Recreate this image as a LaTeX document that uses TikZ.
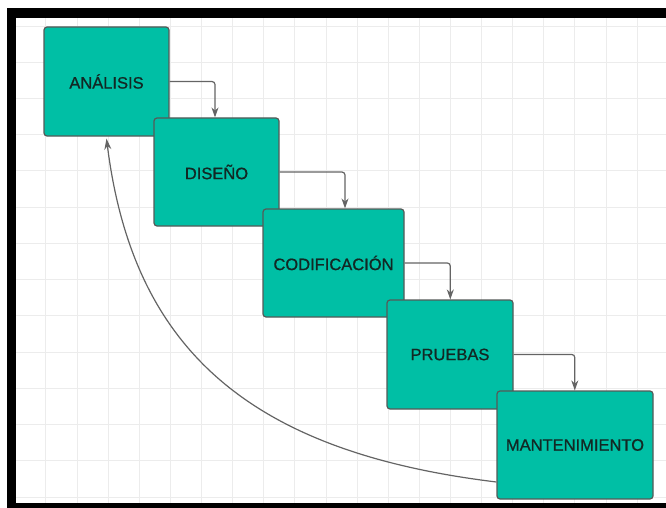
\documentclass[tikz,border=0pt]{standalone}
\usepackage{fontspec}
\setmainfont{Liberation Sans}
\newfontfamily\boxfont[FakeBold=0.8]{Liberation Sans}
\usetikzlibrary{arrows.meta}
\definecolor{boxfill}{RGB}{0,191,165}
\definecolor{boxline}{RGB}{85,90,88}
\definecolor{txtcol}{RGB}{18,40,36}
\definecolor{gridcol}{RGB}{236,236,236}
\definecolor{conncol}{RGB}{100,100,100}
\tikzset{
  stagebox/.style={draw=boxline, line width=1.2pt, fill=boxfill, rounded corners=3pt,
    inner sep=0pt, text=txtcol, font=\boxfont\fontsize{16.5}{18}\selectfont},
  flowline/.style={draw=conncol, line width=1.2pt, rounded corners=3pt,
    -{Stealth[length=10pt,width=7pt]}},
  gridline/.style={draw=gridcol, line width=0.9pt}
}
\begin{document}
\begin{tikzpicture}[x=1pt,y=-1pt]
\useasboundingbox (0,0) rectangle (666,508);
\fill[white] (0,0) rectangle (666,508);
% grid
\foreach \k in {0,...,19} { \draw[gridline] ({45.9+31.12*\k},18) -- ({45.9+31.12*\k},503); }
\foreach \k in {0,...,13} { \draw[gridline] (16,{26+36.23*\k}) -- (666,{26+36.23*\k}); }
% frame
\fill[black] (7,8) rectangle (666,18);
\fill[black] (7,8) rectangle (16,508);
\fill[black] (7,503) rectangle (666,508);
% boxes
\node[stagebox, minimum width=125pt, minimum height=109pt] (a) at (106.5,81.5) {ANÁLISIS};
\node[stagebox, minimum width=125pt, minimum height=108pt] (b) at (216.5,172) {DISEÑO};
\node[stagebox, minimum width=141pt, minimum height=108pt] (c) at (333.5,263) {CODIFICACIÓN};
\node[stagebox, minimum width=126pt, minimum height=109pt] (d) at (450,354.5) {PRUEBAS};
\node[stagebox, minimum width=156pt, minimum height=108pt] (e) at (575,445) {MANTENIMIENTO};
% connectors
\draw[flowline] (a.east) -| ([xshift=-1.5pt]b.north);
\draw[flowline] (b.east) -| ([xshift=11.5pt]c.north);
\draw[flowline] (c.east) -| ([xshift=0.3pt]d.north);
\draw[flowline] (d.east) -| ([xshift=-0.2pt]e.north);
\draw[draw=conncol, line width=1.2pt, -{Stealth[length=11pt,width=7pt]}]
  ([yshift=-37pt]e.west) .. controls (250,452) and (133,350) .. ([yshift=-2pt]a.south);
\end{tikzpicture}
\end{document}
